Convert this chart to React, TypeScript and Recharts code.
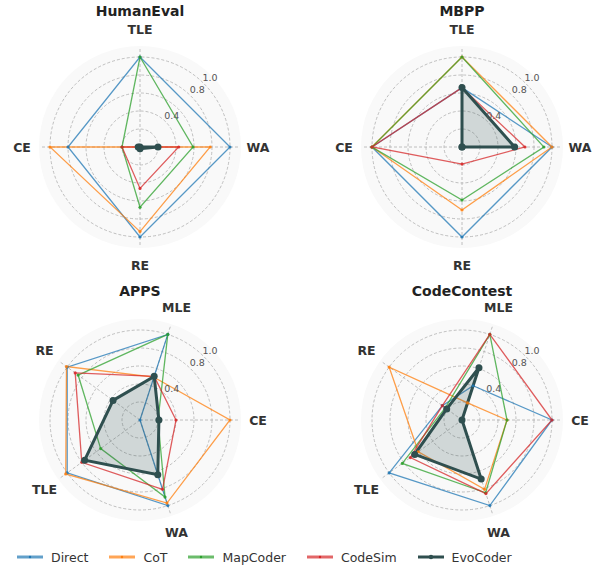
import React from 'react';
import {
  RadarChart,
  Radar,
  PolarGrid,
  PolarAngleAxis,
  PolarRadiusAxis,
} from 'recharts';

const seriesNames = ['Direct', 'CoT', 'MapCoder', 'CodeSim', 'EvoCoder'];
const seriesColors = ['#1f77b4', '#ff7f0e', '#2ca02c', '#d62728', '#2f4f4f'];

const gridTicks = [0.2, 0.4, 0.6, 0.8, 1.0];
const labelTicks = [0.4, 0.8, 1.0];

// HumanEval
const humanEvalAxes = ['TLE', 'WA', 'RE', 'CE'];
const humanEvalDirect = [1.0, 1.0, 1.0, 0.8];
const humanEvalCoT = [0, 0.78, 0.94, 1.0];
const humanEvalMapCoder = [1.0, 0.59, 0.67, 0.2];
const humanEvalCodeSim = [0, 0.43, 0.46, 0.2];
const humanEvalEvoCoder = [0, 0.2, 0.02, 0.02];

// MBPP
const mbppAxes = ['TLE', 'WA', 'RE', 'CE'];
const mbppDirect = [0.66, 1.0, 1.0, 1.0];
const mbppCoT = [1.0, 1.0, 0.7, 1.0];
const mbppMapCoder = [1.0, 0.91, 0.59, 1.0];
const mbppCodeSim = [0.66, 0.7, 0.19, 1.0];
const mbppEvoCoder = [0.66, 0.585, 0, 0];

// APPS
const appsAxes = ['MLE', 'CE', 'WA', 'TLE', 'RE'];
const appsDirect = [1.0, 0, 1.0, 1.0, 1.0];
const appsCoT = [0.5, 1.0, 0.97, 1.02, 1.01];
const appsMapCoder = [1.0, 0.2, 0.9, 0.54, 0.85];
const appsCodeSim = [0.51, 0.4, 0.81, 0.8, 0.89];
const appsEvoCoder = [0.51, 0.21, 0.64, 0.76, 0.37];

// CodeContest
const codeContestAxes = ['MLE', 'CE', 'WA', 'TLE', 'RE'];
const codeContestDirect = [0.4, 1.0, 1.0, 1.0, 0.27];
const codeContestCoT = [0.2, 0.5, 0.81, 0.6, 1.0];
const codeContestMapCoder = [1.0, 0.5, 0.85, 0.82, 0.23];
const codeContestCodeSim = [1.0, 1.0, 0.86, 0.71, 0.27];
const codeContestEvoCoder = [0.61, 0, 0.69, 0.65, 0.21];

const RMAX = 1.1;
const OUTER = 99;
const FONT = 'DejaVu Sans, sans-serif';

const buildRows = (axes: string[], series: number[][]) =>
  axes.map((axis, i) => {
    const row: Record<string, any> = { axis };
    seriesNames.forEach((name, s) => {
      row[name] = series[s][i];
    });
    return row;
  });

const panels = [
  {
    title: 'HumanEval',
    left: 0, top: 0, cx: 140, cy: 147, startAngle: 90,
    data: buildRows(humanEvalAxes, [humanEvalDirect, humanEvalCoT, humanEvalMapCoder, humanEvalCodeSim, humanEvalEvoCoder]),
  },
  {
    title: 'MBPP',
    left: 300, top: 0, cx: 162, cy: 147, startAngle: 90,
    data: buildRows(mbppAxes, [mbppDirect, mbppCoT, mbppMapCoder, mbppCodeSim, mbppEvoCoder]),
  },
  {
    title: 'APPS',
    left: 0, top: 280, cx: 140, cy: 140, startAngle: 72,
    data: buildRows(appsAxes, [appsDirect, appsCoT, appsMapCoder, appsCodeSim, appsEvoCoder]),
  },
  {
    title: 'CodeContest',
    left: 300, top: 280, cx: 162, cy: 140, startAngle: 72,
    data: buildRows(codeContestAxes, [codeContestDirect, codeContestCoT, codeContestMapCoder, codeContestCodeSim, codeContestEvoCoder]),
  },
];

function AngleTick(props: any) {
  const { x, y, payload, ccx, ccy } = props;
  const dx = x - ccx;
  const dy = y - ccy;
  const len = Math.sqrt(dx * dx + dy * dy) || 1;
  const r = 118;
  return (
    <text
      x={ccx + (dx / len) * r}
      y={ccy + (dy / len) * r}
      textAnchor="middle"
      dominantBaseline="central"
      fontFamily={FONT}
      fontWeight="bold"
      fontSize={12.5}
      fill="#333"
    >
      {payload.value}
    </text>
  );
}

function RadiusTick(props: any) {
  const { x, y, payload } = props;
  if (!labelTicks.includes(Number(payload.value))) return null;
  return (
    <text
      x={x + 6.4}
      y={y - 6.2}
      textAnchor="middle"
      dominantBaseline="central"
      fontFamily={FONT}
      fontSize={9.5}
      fill="#555"
    >
      {Number(payload.value).toFixed(1)}
    </text>
  );
}

function Panel({ p }: { p: (typeof panels)[number] }) {
  return (
    <div style={{ position: 'absolute', left: p.left, top: p.top, width: 300, height: 280 }}>
      <div
        style={{
          position: 'absolute',
          left: p.cx - OUTER - 2,
          top: p.cy - OUTER - 2,
          width: (OUTER + 2) * 2,
          height: (OUTER + 2) * 2,
          borderRadius: '50%',
          background: '#f9f9f9',
        }}
      />
      <div
        style={{
          position: 'absolute',
          left: p.cx - 100,
          top: 2,
          width: 200,
          textAlign: 'center',
          fontFamily: FONT,
          fontWeight: 'bold',
          fontSize: 14,
          lineHeight: '18px',
          color: '#222',
        }}
      >
        {p.title}
      </div>
      <div style={{ position: 'absolute', left: 0, top: 0 }}>
        <RadarChart
          width={300}
          height={280}
          data={p.data}
          cx={p.cx}
          cy={p.cy}
          outerRadius={OUTER}
          startAngle={p.startAngle}
          endAngle={p.startAngle - 360}
          margin={{ top: 0, right: 0, bottom: 0, left: 0 }}
        >
          <PolarGrid
            gridType="circle"
            polarRadius={gridTicks.map((t) => (t / RMAX) * OUTER)}
            stroke="#b0b0b0"
            strokeDasharray="3 2"
            strokeWidth={0.8}
          />
          <PolarAngleAxis
            dataKey="axis"
            tickLine={false}
            axisLine={false}
            tick={(tp: any) => <AngleTick {...tp} ccx={p.cx} ccy={p.cy} />}
          />
          <PolarRadiusAxis
            type="number"
            angle={45}
            domain={[0, RMAX]}
            ticks={gridTicks}
            axisLine={false}
            tickLine={false}
            tick={RadiusTick}
          />
          {seriesNames.map((name, i) => {
            const evo = name === 'EvoCoder';
            return (
              <Radar
                key={name}
                dataKey={name}
                stroke={seriesColors[i]}
                strokeWidth={evo ? 3 : 1.3}
                strokeOpacity={evo ? 1 : 0.75}
                fill={evo ? seriesColors[i] : 'none'}
                fillOpacity={evo ? 0.2 : 0}
                dot={{ r: evo ? 3.5 : 1.6, fill: seriesColors[i], stroke: 'none', fillOpacity: evo ? 1 : 0.85 }}
                isAnimationActive={false}
              />
            );
          })}
        </RadarChart>
      </div>
    </div>
  );
}

function Legend() {
  return (
    <div
      style={{
        position: 'absolute',
        left: 17,
        top: 549,
        display: 'flex',
        alignItems: 'center',
        gap: 21,
        fontFamily: FONT,
        fontSize: 12.5,
        color: '#333',
      }}
    >
      {seriesNames.map((name, i) => {
        const evo = name === 'EvoCoder';
        return (
          <div key={name} style={{ display: 'flex', alignItems: 'center', gap: 8 }}>
            <svg width={26} height={16}>
              <line
                x1={0}
                x2={26}
                y1={8}
                y2={8}
                stroke={seriesColors[i]}
                strokeWidth={3}
                strokeOpacity={evo ? 1 : 0.7}
              />
              <circle cx={13} cy={8} r={evo ? 2.2 : 1.2} fill={seriesColors[i]} />
            </svg>
            <span>{name}</span>
          </div>
        );
      })}
    </div>
  );
}

export default function App() {
  return (
    <div style={{ position: 'absolute', left: 0, top: 0, width: 600, height: 572, background: '#fff' }}>
      {panels.map((p) => (
        <Panel key={p.title} p={p} />
      ))}
      <Legend />
    </div>
  );
}
